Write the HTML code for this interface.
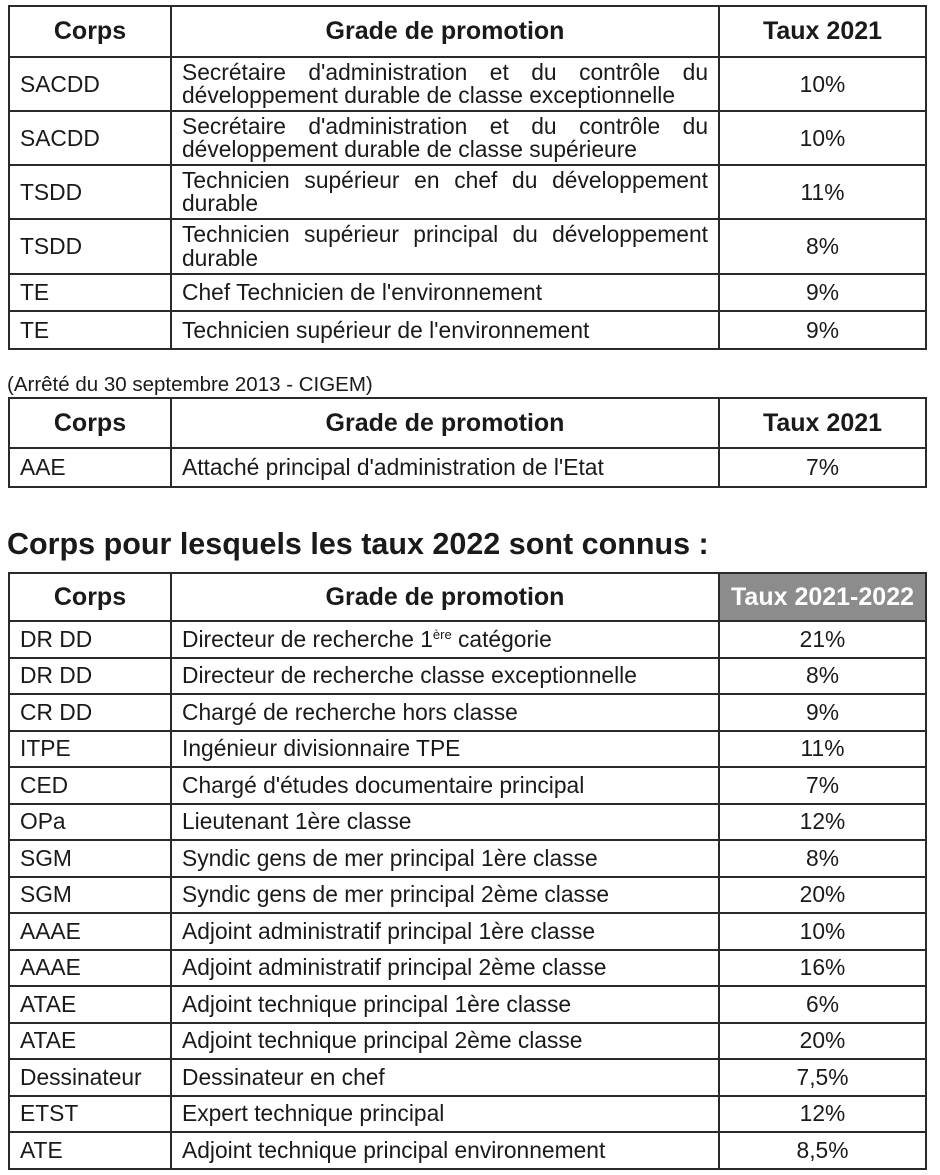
<!DOCTYPE html>
<html><head><meta charset="utf-8"><style>
body{margin:0;width:940px;height:1175px;background:#fff;position:relative;font-family:"Liberation Sans",Arial,sans-serif;color:#1a1a1a;overflow:hidden}
table{position:absolute;left:8px;width:917px;border-collapse:collapse;table-layout:fixed;font-size:22.8px}
td,th{border:2px solid #2a2a2a;padding:0 10px;line-height:23px;vertical-align:middle}
th{font-size:25px;font-weight:bold;text-align:center}
td.c{text-align:center}
td.j{text-align:justify;text-align-last:left;line-height:23.5px}
.g{background:#8c8c8c;color:#fff}
.cap{position:absolute;left:7px;top:373px;font-size:20.5px}
.h{position:absolute;left:7px;top:527px;font-size:30.5px;font-weight:bold}
sup{font-size:13px;vertical-align:8px;line-height:0}
</style></head><body>
<table style="top:5px">
<colgroup><col style="width:162px"><col style="width:548px"><col style="width:207px"></colgroup>
<tr style="height:51px"><th>Corps</th><th>Grade de promotion</th><th>Taux 2021</th></tr>
<tr style="height:54px"><td>SACDD</td><td class="j">Secrétaire d'administration et du contrôle du développement durable de classe exceptionnelle</td><td class="c">10%</td></tr>
<tr style="height:54px"><td>SACDD</td><td class="j">Secrétaire d'administration et du contrôle du développement durable de classe supérieure</td><td class="c">10%</td></tr>
<tr style="height:54px"><td>TSDD</td><td class="j">Technicien supérieur en chef du développement durable</td><td class="c">11%</td></tr>
<tr style="height:55px"><td>TSDD</td><td class="j">Technicien supérieur principal du développement durable</td><td class="c">8%</td></tr>
<tr style="height:37px"><td>TE</td><td>Chef Technicien de l'environnement</td><td class="c">9%</td></tr>
<tr style="height:38px"><td>TE</td><td>Technicien supérieur de l'environnement</td><td class="c">9%</td></tr>
</table>
<div class="cap">(Arrêté du 30 septembre 2013 - CIGEM)</div>
<table style="top:397px">
<colgroup><col style="width:162px"><col style="width:548px"><col style="width:207px"></colgroup>
<tr style="height:50px"><th>Corps</th><th>Grade de promotion</th><th>Taux 2021</th></tr>
<tr style="height:39px"><td>AAE</td><td>Attaché principal d'administration de l'Etat</td><td class="c">7%</td></tr>
</table>
<div class="h">Corps pour lesquels les taux 2022 sont connus :</div>
<table style="top:572px">
<colgroup><col style="width:162px"><col style="width:548px"><col style="width:207px"></colgroup>
<tr style="height:48px"><th>Corps</th><th>Grade de promotion</th><th class="g">Taux 2021-2022</th></tr>
<tr style="height:36.5px"><td>DR DD</td><td>Directeur de recherche 1<sup>ère</sup> catégorie</td><td class="c">21%</td></tr>
<tr style="height:36.5px"><td>DR DD</td><td>Directeur de recherche classe exceptionnelle</td><td class="c">8%</td></tr>
<tr style="height:36.5px"><td>CR DD</td><td>Chargé de recherche hors classe</td><td class="c">9%</td></tr>
<tr style="height:36.5px"><td>ITPE</td><td>Ingénieur divisionnaire TPE</td><td class="c">11%</td></tr>
<tr style="height:36.5px"><td>CED</td><td>Chargé d'études documentaire principal</td><td class="c">7%</td></tr>
<tr style="height:36.5px"><td>OPa</td><td>Lieutenant 1ère classe</td><td class="c">12%</td></tr>
<tr style="height:36.5px"><td>SGM</td><td>Syndic gens de mer principal 1ère classe</td><td class="c">8%</td></tr>
<tr style="height:36.5px"><td>SGM</td><td>Syndic gens de mer principal 2ème classe</td><td class="c">20%</td></tr>
<tr style="height:36.5px"><td>AAAE</td><td>Adjoint administratif principal 1ère classe</td><td class="c">10%</td></tr>
<tr style="height:36.5px"><td>AAAE</td><td>Adjoint administratif principal 2ème classe</td><td class="c">16%</td></tr>
<tr style="height:36.5px"><td>ATAE</td><td>Adjoint technique principal 1ère classe</td><td class="c">6%</td></tr>
<tr style="height:36.5px"><td>ATAE</td><td>Adjoint technique principal 2ème classe</td><td class="c">20%</td></tr>
<tr style="height:36.5px"><td>Dessinateur</td><td>Dessinateur en chef</td><td class="c">7,5%</td></tr>
<tr style="height:36.5px"><td>ETST</td><td>Expert technique principal</td><td class="c">12%</td></tr>
<tr style="height:36.5px"><td>ATE</td><td>Adjoint technique principal environnement</td><td class="c">8,5%</td></tr>
</table>
</body></html>
